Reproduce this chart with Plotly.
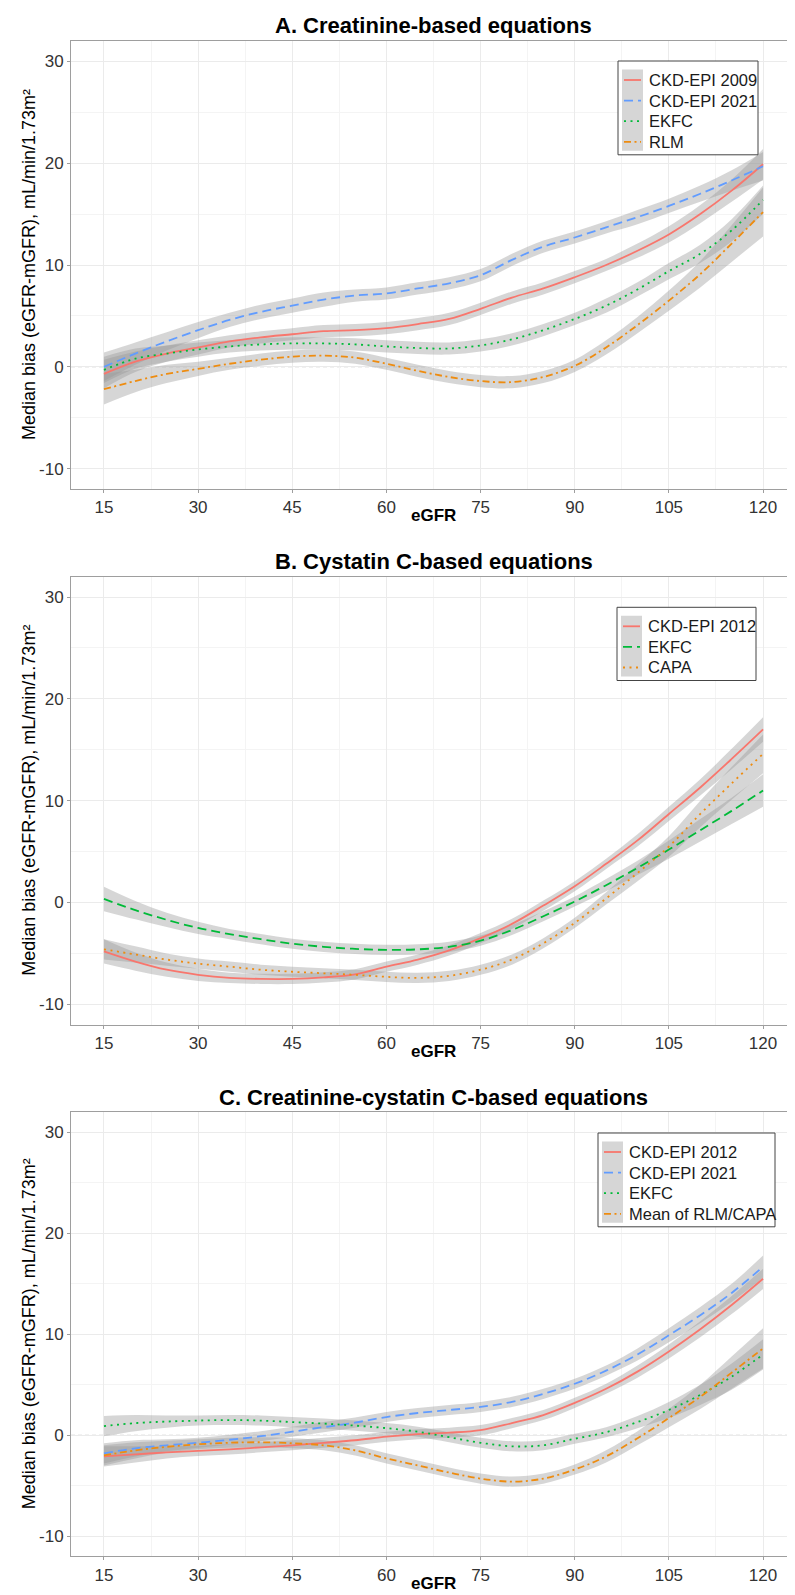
import plotly.graph_objects as go

# ---------------- data ----------------
EGFR = [15, 20, 25, 30, 35, 40, 45, 50, 55, 60, 65, 70, 75, 80, 85, 90, 95, 100, 105, 110, 115, 120]

X_TICKS = [15, 30, 45, 60, 75, 90, 105, 120]
Y_TICKS = [-10, 0, 10, 20, 30]

# Panel A: creatinine-based
a_ckd2009 = [-0.7, 0.5, 1.3, 1.9, 2.5, 2.9, 3.2, 3.5, 3.6, 3.8, 4.2, 4.7, 5.7, 6.8, 7.7, 8.8, 10.0, 11.4, 13.0, 15.0, 17.3, 19.9]
a_ckd2021 = [0.0, 1.3, 2.5, 3.6, 4.6, 5.4, 6.0, 6.6, 7.0, 7.2, 7.7, 8.2, 9.0, 10.5, 11.8, 12.7, 13.7, 14.7, 15.8, 17.0, 18.3, 19.7]
a_ekfc = [-0.3, 0.8, 1.3, 1.7, 2.0, 2.2, 2.3, 2.3, 2.2, 2.0, 1.85, 1.8, 2.1, 2.7, 3.6, 4.7, 6.0, 7.6, 9.4, 11.1, 13.4, 16.4]
a_rlm = [-2.2, -1.4, -0.7, -0.2, 0.3, 0.7, 1.0, 1.1, 0.9, 0.3, -0.4, -1.0, -1.4, -1.5, -1.0, 0.1, 1.9, 4.1, 6.5, 9.1, 12.1, 15.2]
a_ckd2009_hw = [1.4, 1.0, 0.8, 0.7, 0.6, 0.6, 0.6, 0.6, 0.6, 0.6, 0.6, 0.6, 0.6, 0.6, 0.6, 0.6, 0.6, 0.7, 0.8, 0.9, 1.1, 1.5]
a_ckd2021_hw = [1.4, 1.1, 0.9, 0.8, 0.7, 0.7, 0.7, 0.7, 0.6, 0.6, 0.6, 0.6, 0.6, 0.6, 0.6, 0.6, 0.6, 0.7, 0.7, 0.8, 1.0, 1.4]
a_ekfc_hw = [1.3, 1.0, 0.8, 0.7, 0.6, 0.6, 0.6, 0.6, 0.6, 0.6, 0.6, 0.6, 0.6, 0.6, 0.6, 0.6, 0.7, 0.7, 0.8, 0.9, 1.1, 1.4]
a_rlm_hw = [1.5, 1.1, 0.9, 0.7, 0.6, 0.6, 0.6, 0.6, 0.6, 0.6, 0.6, 0.6, 0.6, 0.6, 0.6, 0.6, 0.7, 0.8, 1.0, 1.3, 1.8, 2.4]

# Panel B: cystatin C-based
b_ckd2012 = [-4.8, -5.8, -6.6, -7.1, -7.4, -7.5, -7.5, -7.35, -7.05, -6.3, -5.6, -4.7, -3.5, -2.1, -0.3, 1.6, 3.8, 6.1, 8.7, 11.3, 14.1, 17.0]
b_ekfc = [0.35, -0.75, -1.7, -2.5, -3.1, -3.6, -4.05, -4.35, -4.55, -4.65, -4.6, -4.35, -3.75, -2.7, -1.35, 0.1, 1.7, 3.4, 5.2, 7.1, 9.0, 11.0]
b_capa = [-4.6, -5.1, -5.6, -6.0, -6.3, -6.6, -6.8, -6.95, -7.1, -7.3, -7.4, -7.2, -6.6, -5.6, -4.0, -2.0, 0.4, 2.9, 5.5, 8.7, 11.7, 14.6]
b_ckd2012_hw = [1.2, 0.9, 0.7, 0.6, 0.5, 0.5, 0.5, 0.5, 0.5, 0.5, 0.5, 0.5, 0.5, 0.5, 0.5, 0.5, 0.5, 0.6, 0.7, 0.8, 1.0, 1.2]
b_ekfc_hw = [1.2, 0.9, 0.7, 0.6, 0.5, 0.5, 0.5, 0.5, 0.5, 0.5, 0.5, 0.5, 0.5, 0.5, 0.5, 0.5, 0.6, 0.7, 0.9, 1.1, 1.3, 1.6]
b_capa_hw = [1.0, 0.8, 0.6, 0.5, 0.5, 0.5, 0.5, 0.5, 0.5, 0.5, 0.5, 0.5, 0.5, 0.5, 0.5, 0.5, 0.6, 0.8, 1.0, 1.3, 1.6, 1.9]

# Panel C: creatinine-cystatin C-based
c_ckd2012 = [-2.1, -1.9, -1.7, -1.55, -1.4, -1.2, -1.0, -0.75, -0.5, -0.15, 0.1, 0.25, 0.5, 1.2, 2.0, 3.2, 4.6, 6.3, 8.3, 10.5, 12.9, 15.5]
c_ckd2021 = [-1.8, -1.3, -1.0, -0.75, -0.45, -0.1, 0.35, 0.8, 1.25, 1.8, 2.2, 2.5, 2.8, 3.3, 4.1, 5.1, 6.4, 8.0, 9.9, 11.9, 14.1, 16.7]
c_ekfc = [0.9, 1.2, 1.35, 1.45, 1.5, 1.45, 1.3, 1.15, 0.95, 0.7, 0.35, -0.2, -0.75, -1.1, -1.0, -0.35, 0.3, 1.3, 2.5, 4.0, 5.8, 8.0]
c_mean = [-2.0, -1.5, -1.15, -0.9, -0.75, -0.7, -0.8, -1.0, -1.5, -2.3, -3.0, -3.7, -4.3, -4.6, -4.3, -3.4, -2.1, -0.3, 1.7, 3.8, 6.2, 8.6]
c_ckd2012_hw = [1.0, 0.8, 0.6, 0.5, 0.5, 0.5, 0.5, 0.5, 0.5, 0.5, 0.5, 0.5, 0.5, 0.5, 0.5, 0.5, 0.5, 0.6, 0.7, 0.8, 0.9, 1.0]
c_ckd2021_hw = [1.0, 0.8, 0.6, 0.5, 0.5, 0.5, 0.5, 0.5, 0.5, 0.5, 0.5, 0.5, 0.5, 0.5, 0.5, 0.5, 0.5, 0.6, 0.7, 0.8, 0.9, 1.1]
c_ekfc_hw = [1.0, 0.8, 0.6, 0.5, 0.5, 0.5, 0.5, 0.5, 0.5, 0.5, 0.5, 0.5, 0.5, 0.5, 0.5, 0.5, 0.5, 0.6, 0.8, 1.0, 1.3, 1.5]
c_mean_hw = [1.0, 0.8, 0.6, 0.5, 0.5, 0.5, 0.5, 0.5, 0.5, 0.5, 0.5, 0.5, 0.5, 0.5, 0.5, 0.5, 0.6, 0.7, 0.9, 1.2, 1.6, 2.0]

TITLES = ["A. Creatinine-based equations", "B. Cystatin C-based equations",
          "C. Creatinine-cystatin C-based equations"]
X_TITLE = "eGFR"
Y_TITLE = "Median bias (eGFR-mGFR), mL/min/1.73m²"

# ---------------- styles ----------------
RED, BLUE, GREEN, ORANGE = "#F8766D", "#619CFF", "#00BA38", "#EE8C10"
SOLID, DASHED, DOTTED, DOTDASH = "solid", "9px,5px", "2px,4.5px", "7px,3.5px,2px,3.5px"
RIBBON = "rgba(153,153,153,0.4)"
FONT = "Liberation Sans, Arial, Helvetica, sans-serif"
W, H = 795, 1595
LW = 1.8

panels = [
    dict(top=33, bottom=481, leg=(610, 750, 53),
         series=[("CKD-EPI 2009", a_ckd2009, a_ckd2009_hw, RED, SOLID),
                 ("CKD-EPI 2021", a_ckd2021, a_ckd2021_hw, BLUE, DASHED),
                 ("EKFC", a_ekfc, a_ekfc_hw, GREEN, DOTTED),
                 ("RLM", a_rlm, a_rlm_hw, ORANGE, DOTDASH)]),
    dict(top=568.7, bottom=1016.7, leg=(609, 748, 599.3),
         series=[("CKD-EPI 2012", b_ckd2012, b_ckd2012_hw, RED, SOLID),
                 ("EKFC", b_ekfc, b_ekfc_hw, GREEN, DASHED),
                 ("CAPA", b_capa, b_capa_hw, ORANGE, DOTTED)]),
    dict(top=1104.3, bottom=1548.3, leg=(590, 767, 1125),
         series=[("CKD-EPI 2012", c_ckd2012, c_ckd2012_hw, RED, SOLID),
                 ("CKD-EPI 2021", c_ckd2021, c_ckd2021_hw, BLUE, DASHED),
                 ("EKFC", c_ekfc, c_ekfc_hw, GREEN, DOTTED),
                 ("Mean of RLM/CAPA", c_mean, c_mean_hw, ORANGE, DOTDASH)]),
]

PLOT_L, PLOT_R = 63, 788


def PX(x):
    return x / W


def PY(y):
    return 1 - y / H


fig = go.Figure()
layout = dict(width=W, height=H, margin=dict(l=0, r=0, t=0, b=0), autosize=False,
              paper_bgcolor="white", plot_bgcolor="white", showlegend=False,
              font=dict(family=FONT, size=16, color="#1a1a1a"))
shapes, annotations = [], []

for i, p in enumerate(panels):
    k = "" if i == 0 else str(i + 1)
    xa, ya = "x" + k, "y" + k
    # ribbons
    for name, vals, hw, col, dash in p["series"]:
        up = [v + h for v, h in zip(vals, hw)]
        lo = [v - h for v, h in zip(vals, hw)]
        fig.add_trace(go.Scatter(x=EGFR, y=up, mode="lines", line=dict(width=0, shape="spline"),
                                 xaxis=xa, yaxis=ya, hoverinfo="skip", showlegend=False))
        fig.add_trace(go.Scatter(x=EGFR, y=lo, mode="lines", line=dict(width=0, shape="spline"),
                                 fill="tonexty", fillcolor=RIBBON,
                                 xaxis=xa, yaxis=ya, hoverinfo="skip", showlegend=False))
    # lines
    for name, vals, hw, col, dash in p["series"]:
        fig.add_trace(go.Scatter(x=EGFR, y=vals, mode="lines", name=name,
                                 line=dict(color=col, width=LW, dash=dash, shape="spline"),
                                 xaxis=xa, yaxis=ya, showlegend=False))

    layout["xaxis" + k] = dict(
        domain=[PX(PLOT_L), PX(PLOT_R)], anchor=ya, range=[9.75, 125.25],
        tickvals=X_TICKS, ticktext=[str(t) for t in X_TICKS],
        showgrid=True, gridcolor="#EBEBEB", gridwidth=1,
        minor=dict(tickvals=[22.5, 37.5, 52.5, 67.5, 82.5, 97.5, 112.5], showgrid=True,
                   gridcolor="#F4F4F4", gridwidth=1),
        showline=True, mirror=True, linecolor="#9E9E9E", linewidth=1,
        ticks="outside", ticklen=3, tickcolor="#9E9E9E",
        tickfont=dict(size=17, color="#333333", family=FONT), zeroline=False, fixedrange=True)
    layout["yaxis" + k] = dict(
        domain=[PY(p["bottom"]), PY(p["top"])], anchor=xa, range=[-12, 32],
        tickvals=Y_TICKS, ticktext=[str(t) for t in Y_TICKS],
        showgrid=True, gridcolor="#EBEBEB", gridwidth=1,
        minor=dict(tickvals=[-5, 5, 15, 25], showgrid=True, gridcolor="#F4F4F4", gridwidth=1),
        showline=True, mirror=True, linecolor="#9E9E9E", linewidth=1,
        ticks="outside", ticklen=3, tickcolor="#9E9E9E",
        tickfont=dict(size=17, color="#333333", family=FONT), zeroline=False, fixedrange=True)

    # dashed reference line at zero
    shapes.append(dict(type="line", xref=xa + " domain", yref=ya, x0=0, x1=1, y0=0, y1=0,
                       line=dict(color="#CFCFCF", width=1, dash="4px,3px"), layer="below"))

    cx = (PLOT_L + PLOT_R) / 2
    annotations.append(dict(text=TITLES[i], x=PX(cx), y=PY(p["top"] - 15),
                            xref="paper", yref="paper", xanchor="center", yanchor="middle",
                            showarrow=False,
                            font=dict(size=22, color="black", family=FONT, weight="bold")))
    annotations.append(dict(text=X_TITLE, x=PX(cx), y=PY(p["bottom"] + 27),
                            xref="paper", yref="paper", xanchor="center", yanchor="middle",
                            showarrow=False,
                            font=dict(size=17, color="black", family=FONT, weight="bold")))
    annotations.append(dict(text=Y_TITLE, x=PX(21), y=PY((p["top"] + p["bottom"]) / 2),
                            xref="paper", yref="paper", xanchor="center", yanchor="middle",
                            textangle=-90, showarrow=False,
                            font=dict(size=18, color="black", family=FONT)))

    # legend (drawn manually to mimic ggplot keys with grey ribbon background)
    L, R, T = p["leg"]
    n = len(p["series"])
    step = 20.6
    first = T + 19
    bottom = first + (n - 1) * step + 13
    shapes.append(dict(type="rect", xref="paper", yref="paper", x0=PX(L), x1=PX(R),
                       y0=PY(bottom), y1=PY(T), fillcolor="white",
                       line=dict(color="#444444", width=1), layer="above"))
    shapes.append(dict(type="rect", xref="paper", yref="paper", x0=PX(L + 4), x1=PX(L + 25),
                       y0=PY(bottom - 4), y1=PY(T + 8.5), fillcolor="#D6D6D6",
                       line=dict(width=0), layer="above"))
    for j, (name, vals, hw, col, dash) in enumerate(p["series"]):
        yc = first + j * step
        shapes.append(dict(type="line", xref="paper", yref="paper", x0=PX(L + 6), x1=PX(L + 23),
                           y0=PY(yc), y1=PY(yc), line=dict(color=col, width=LW, dash=dash),
                           layer="above"))
        annotations.append(dict(text=name, x=PX(L + 29), y=PY(yc), xref="paper", yref="paper",
                                xanchor="left", yanchor="middle", showarrow=False,
                                font=dict(size=16.5, color="#1a1a1a", family=FONT)))

layout["shapes"] = shapes
layout["annotations"] = annotations
fig.update_layout(**layout)
fig.write_html("out.html")
